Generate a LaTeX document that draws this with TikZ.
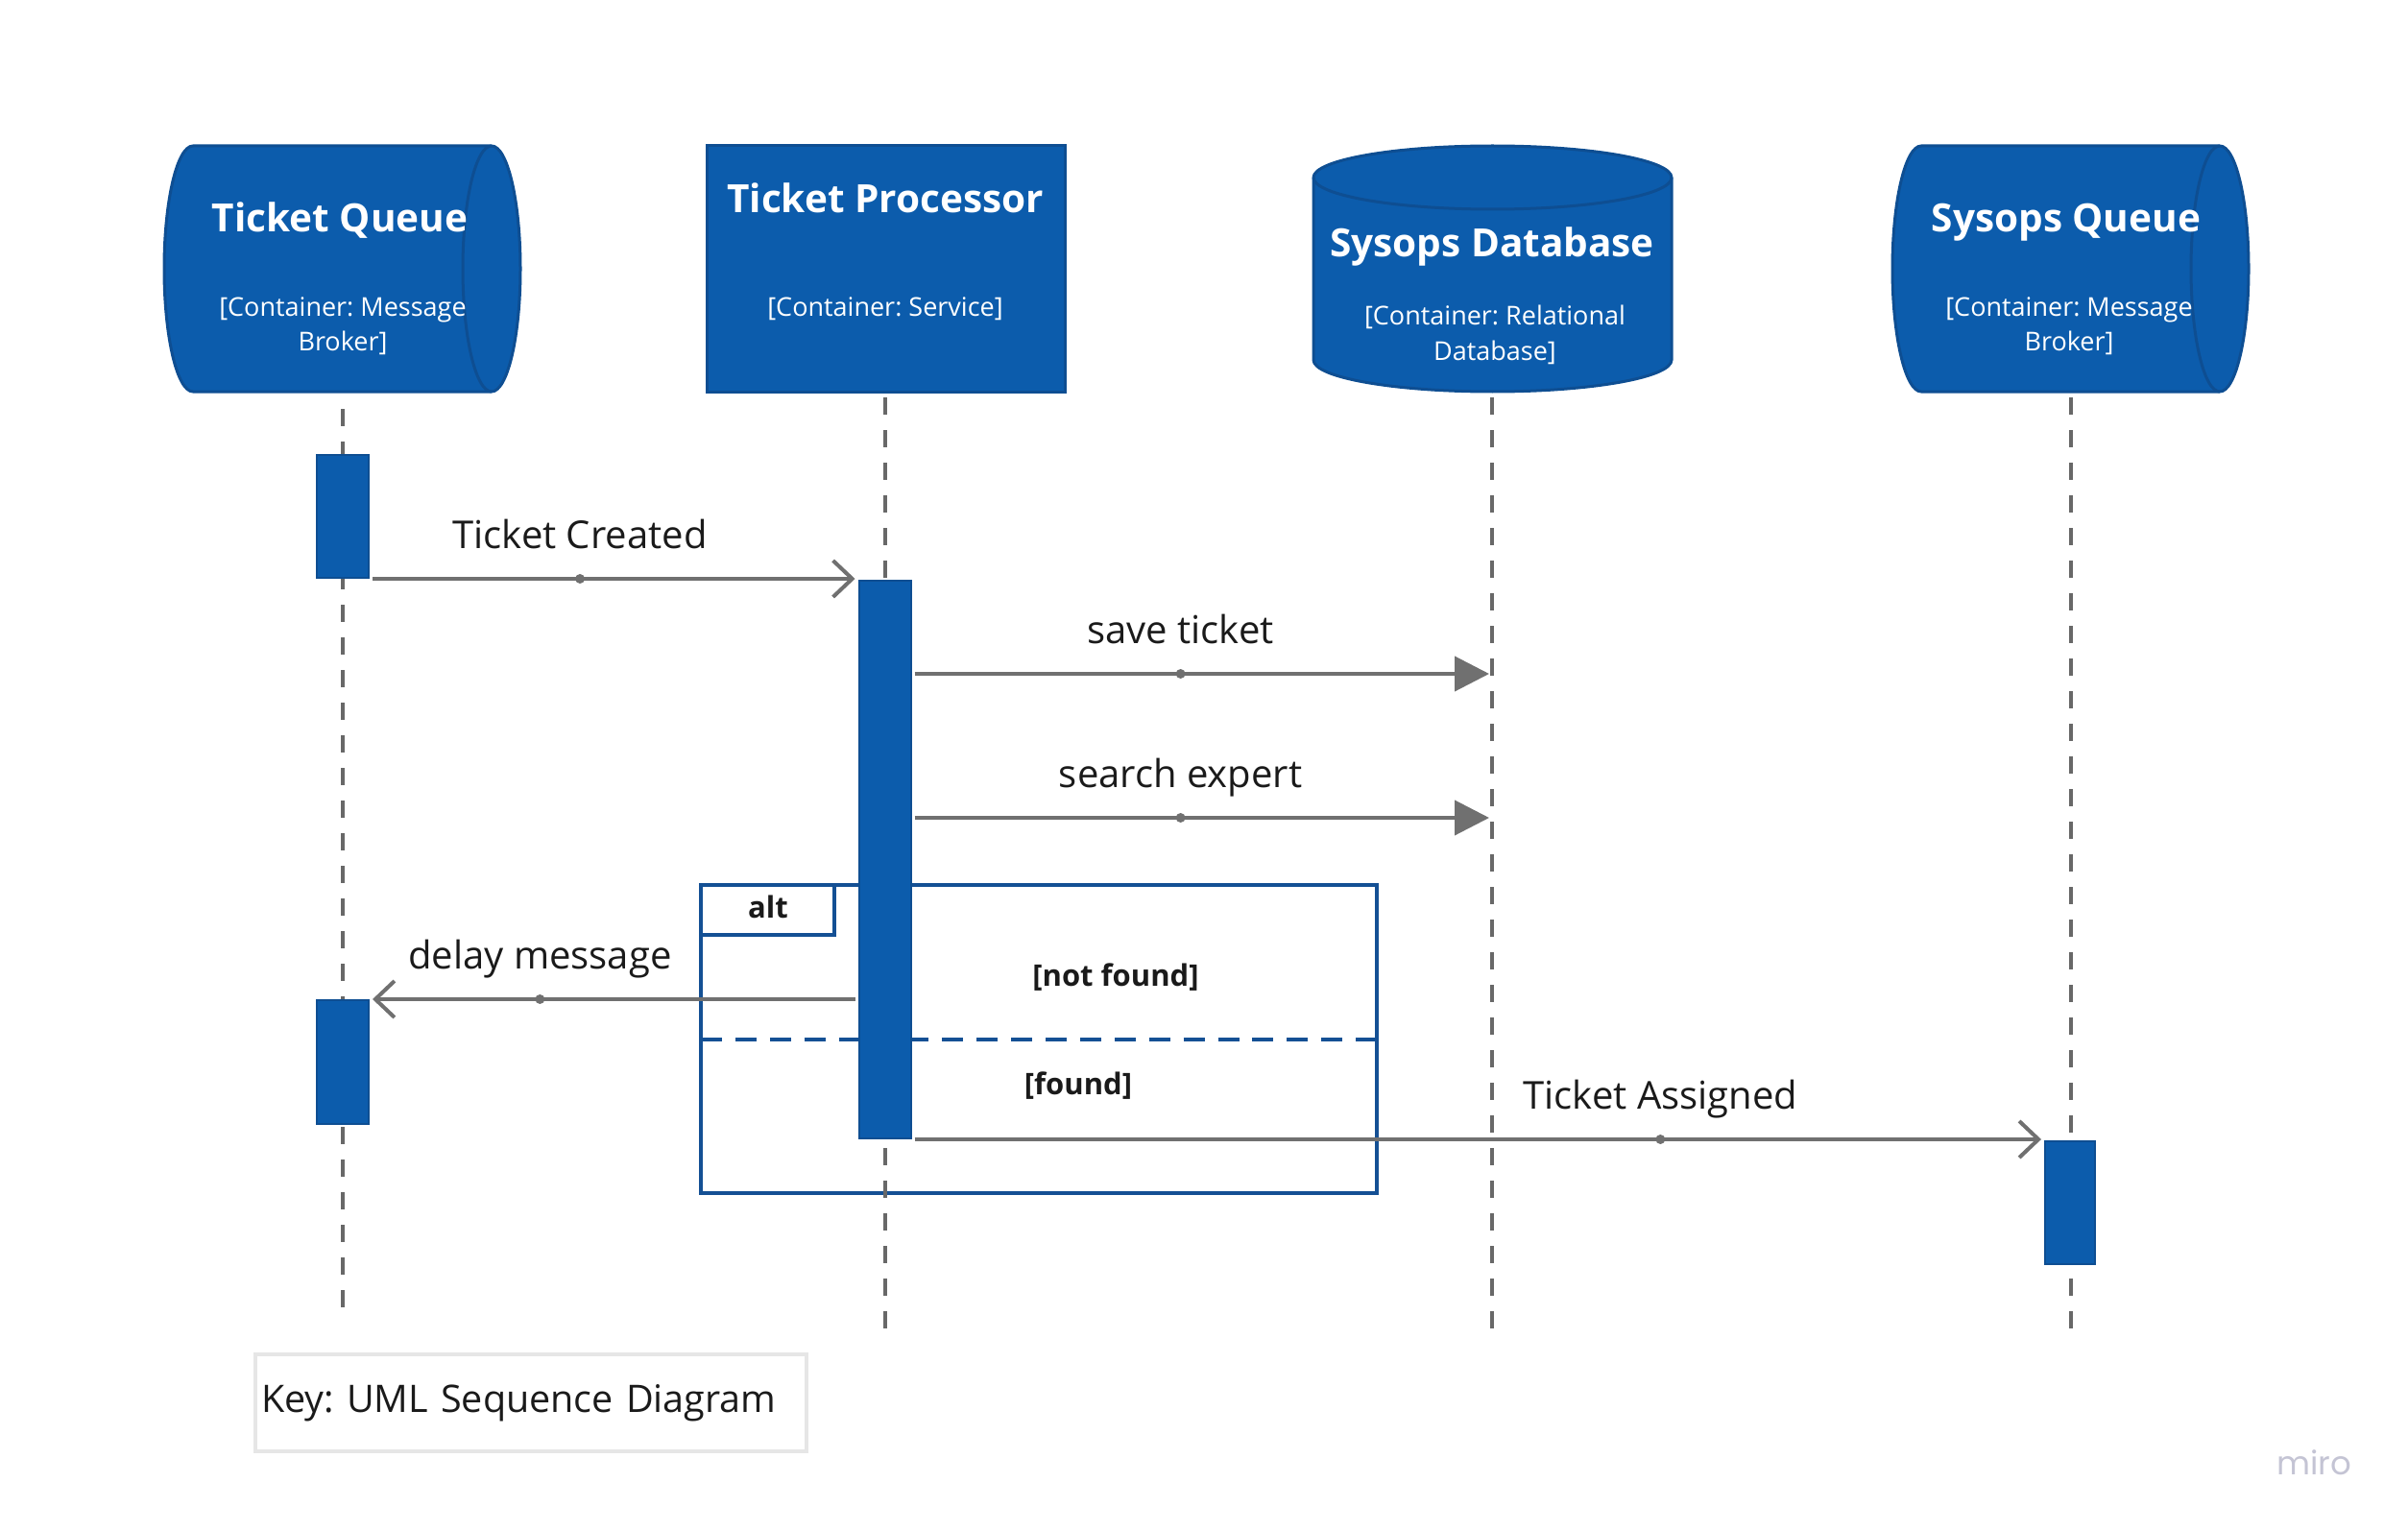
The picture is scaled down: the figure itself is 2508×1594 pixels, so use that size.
\documentclass[tikz,border=0pt]{standalone}
\usepackage{fontspec}
\setmainfont{Open Sans}
\newfontfamily\mirofont{Poppins}
\usetikzlibrary{arrows.meta}
\definecolor{boxblue}{RGB}{12,92,172}
\definecolor{boxedge}{RGB}{14,78,146}
\definecolor{framec}{RGB}{20,80,148}
\definecolor{msggray}{RGB}{112,112,112}
\definecolor{lifegray}{RGB}{104,104,104}
\definecolor{keyedge}{RGB}{230,230,230}
\definecolor{mirogray}{RGB}{196,196,212}
\definecolor{txt}{RGB}{26,26,26}
\frenchspacing
\begin{document}
\begin{tikzpicture}[x=1pt,y=-1pt,
  headshape/.style={fill=boxblue, draw=boxedge, line width=3pt},
  headtitle/.style={text=white, font=\bfseries\fontsize{40.5}{48}\selectfont, anchor=base, inner sep=0pt},
  headsub/.style={text=white, font=\fontsize{27}{36.5}\selectfont, align=center, anchor=north, inner sep=0pt},
  lifeline/.style={draw=lifegray, line width=3.5pt, dash pattern=on 18pt off 16pt},
  actbar/.style={fill=boxblue, draw=boxedge, line width=2pt, minimum width=54pt, inner sep=0pt},
  msg/.style={draw=msggray, line width=4pt},
  syncmsg/.style={msg, -{Triangle[length=36pt,width=36pt]}},
  asyncmsg/.style={msg, -{Straight Barb[length=20pt,width=38pt,line width=4pt]}},
  middot/.style={circle, fill=msggray, inner sep=0pt, minimum size=10pt},
  msglabel/.style={text=txt, font=\fontsize{40}{48}\selectfont, anchor=base, yshift=32pt, inner sep=0pt},
  frameline/.style={draw=framec, line width=4pt, outer sep=0pt, inner sep=0pt},
  guard/.style={text=txt, font=\bfseries\fontsize{31}{38}\selectfont, inner sep=0pt},
  ]
\useasboundingbox (0,0) rectangle (2508,1594);

% ---- heads ----
% Ticket Queue (horizontal cylinder)
\path[headshape] (201,152) -- (512,152) arc[start angle=90, end angle=-90, x radius=30pt, y radius=128pt]
  -- (201,408) arc[start angle=270, end angle=90, x radius=30pt, y radius=128pt] -- cycle;
\draw[boxedge, line width=3pt] (512,152) arc[start angle=90, end angle=270, x radius=30pt, y radius=128pt];
\node[headtitle] (tqT) at (354,242) {Ticket Queue};
\node[headsub] (tqS) at (357,309) {[Container: Message\\Broker]};

% Ticket Processor
\node[headshape, anchor=north west, minimum width=373pt, minimum height=256pt, inner sep=0pt, outer sep=0pt] (tp) at (736,152) {};
\node[headtitle] (tpT) at (922,222) {Ticket Processor};
\node[headsub] (tpS) at (922,309) {[Container: Service]};

% Sysops Database (vertical cylinder)
\path[headshape] (1368,185) arc[start angle=180, end angle=0, x radius=186.5pt, y radius=33pt]
  -- (1741,375) arc[start angle=0, end angle=-180, x radius=186.5pt, y radius=33pt] -- cycle;
\draw[boxedge, line width=3pt] (1368,185) arc[start angle=180, end angle=360, x radius=186.5pt, y radius=33pt];
\node[headtitle] (dbT) at (1554,268) {Sysops Database};
\node[headsub] (dbS) at (1557,318) {[Container: Relational\\Database]};

% Sysops Queue (horizontal cylinder)
\path[headshape] (2001,152) -- (2312,152) arc[start angle=90, end angle=-90, x radius=30pt, y radius=128pt]
  -- (2001,408) arc[start angle=270, end angle=90, x radius=30pt, y radius=128pt] -- cycle;
\draw[boxedge, line width=3pt] (2312,152) arc[start angle=90, end angle=270, x radius=30pt, y radius=128pt];
\node[headtitle] (sqT) at (2152,242) {Sysops Queue};
\node[headsub] (sqS) at (2155,309) {[Container: Message\\Broker]};

% ---- alt frame ----
\node[frameline, anchor=north west, minimum width=704pt, minimum height=321pt] (alt) at (730,922) {};
\node[frameline, anchor=north west, minimum width=139pt, minimum height=52pt] (alttab) at (730,922) {};
\node[guard] (altlabel) at (800,945) {alt};
\draw[framec, line width=4pt, dash pattern=on 22pt off 13.9pt] (alt.west) -- (alt.east);
\node[guard] (nf) at (1162,1018) {[not found]};
\node[guard] (fd) at (1123,1131) {[found]};

% ---- lifelines ----
\coordinate (tqtop) at (357,414); \coordinate (tqend) at (357,1362);
\coordinate (tptop) at (922,414); \coordinate (tpend) at (922,1384);
\coordinate (dbtop) at (1554,414); \coordinate (dbend) at (1554,1384);
\coordinate (sqtop) at (2157,414); \coordinate (sqend) at (2157,1384);
\draw[lifeline, dash phase=-12pt] (tqtop) -- (tqend);
\draw[lifeline] (tptop) -- (tpend);
\draw[lifeline] (dbtop) -- (dbend);
\draw[lifeline] (sqtop) -- (sqend);

% ---- activation bars ----
\node[actbar, minimum height=128pt] (tq1) at (357,538) {};
\node[actbar, minimum height=129pt] (tq2) at (357,1106.5) {};
\node[actbar, minimum height=581pt] (tp1) at (921.5,895.5) {};
\node[actbar, minimum height=128pt, minimum width=52pt] (sq1) at (2156,1253) {};

% ---- messages ----
\coordinate (dbsave) at (1551,702);
\coordinate (dbsearch) at (1551,852);

\draw[asyncmsg] ([xshift=3pt]tq1.south east) -- ([xshift=-3pt]tp1.west |- tq1.south east)
  node[pos=0.43, middot] (d1) {} node[pos=0.43, msglabel] (l1) {Ticket Created};
\draw[syncmsg] ([xshift=3pt]tp1.east |- dbsave) -- (dbsave)
  node[pos=0.463, middot] (d2) {} node[pos=0.463, msglabel] (l2) {save ticket};
\draw[syncmsg] ([xshift=3pt]tp1.east |- dbsearch) -- (dbsearch)
  node[pos=0.463, middot] (d3) {} node[pos=0.463, msglabel] (l3) {search expert};
\draw[asyncmsg] ([xshift=-3pt]tp1.west |- tq2.north east) -- ([xshift=3pt]tq2.north east)
  node[pos=0.653, middot] (d4) {} node[pos=0.653, msglabel] (l4) {delay message};
\draw[asyncmsg] ([xshift=3pt]tp1.south east) -- ([xshift=-3pt]sq1.west |- tp1.south east)
  node[pos=0.662, middot] (d5) {} node[pos=0.662, msglabel] (l5) {Ticket Assigned};

% ---- key ----
\node[draw=keyedge, line width=4pt, anchor=north west, minimum width=574pt, minimum height=101pt, outer sep=0pt,
  text width=562pt, inner xsep=6pt, align=left, text=txt, font=\fontsize{39.5}{47}\selectfont] (key)
  at (266,1411) {Key: UML Sequence Diagram};

\node[text=mirogray, font=\mirofont\fontsize{34}{40}\selectfont] (miro) at (2410,1524) {miro};
\end{tikzpicture}
\end{document}
